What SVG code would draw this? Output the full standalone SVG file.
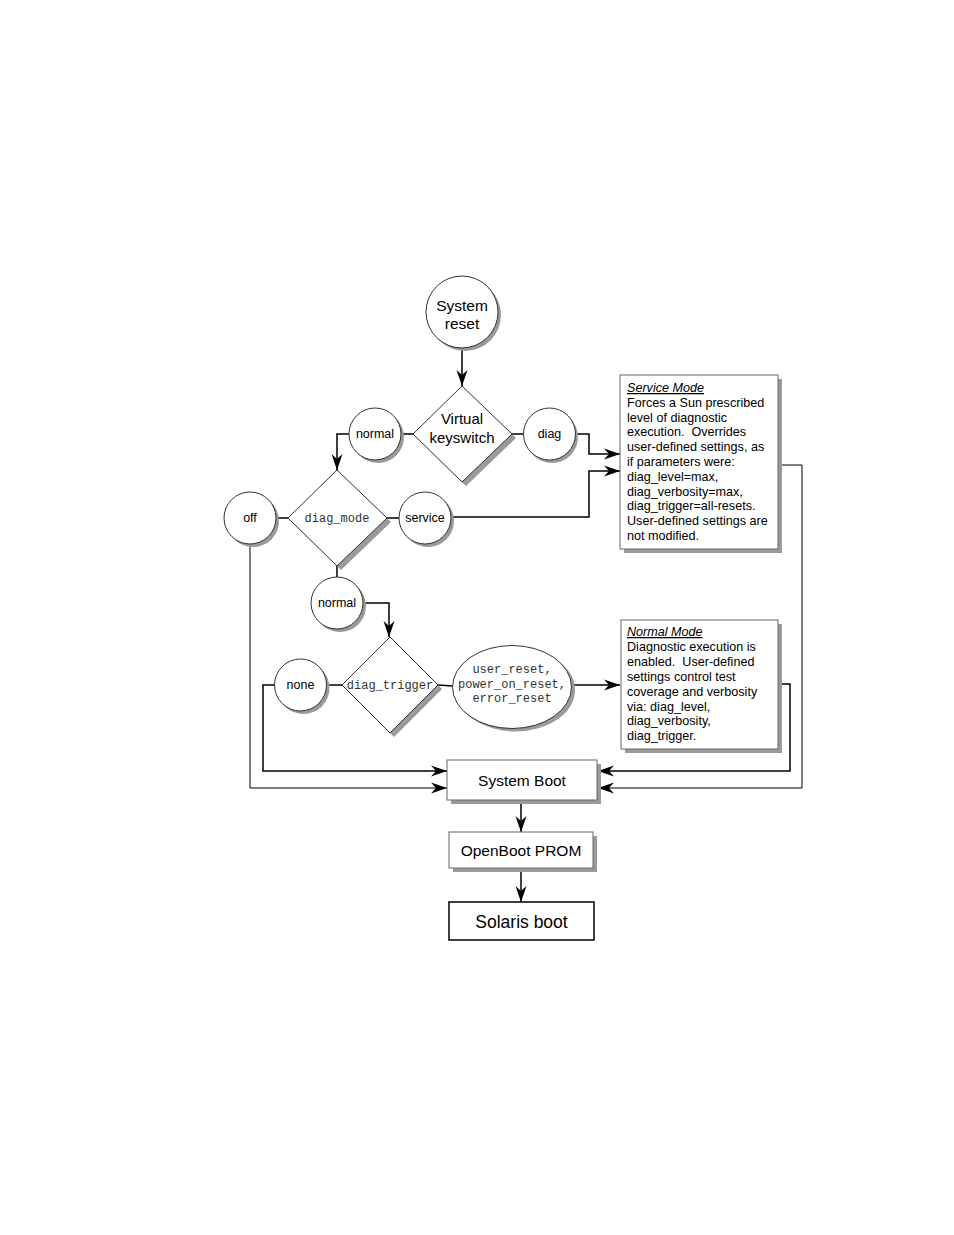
<svg xmlns="http://www.w3.org/2000/svg" width="954" height="1235" viewBox="0 0 954 1235">
<defs>
<marker id="ah" markerUnits="userSpaceOnUse" markerWidth="17" markerHeight="13" refX="16" refY="6.5" orient="auto">
<path d="M0,1 L16,6.5 L0,12 L5,6.5 z" fill="#000"/>
</marker>
<style>
.sh{fill:#9a9a9a;stroke:none}
.nd{fill:#fff;stroke:#333;stroke-width:1}
.bx{fill:#fff;stroke:#666;stroke-width:1}
.sans{font-family:"Liberation Sans",Arial,sans-serif;fill:#000}
.mono{font-family:"Liberation Mono","Courier New",monospace;fill:#333}
.c{text-anchor:middle}
.ln{fill:none;stroke:#000;stroke-width:1.5}
.thin{fill:none;stroke:#000;stroke-width:1}
.arr{marker-end:url(#ah)}
.bt{font-size:12.6px}
</style>
</defs>
<rect width="954" height="1235" fill="#fff"/>

<g id="connectors">
<path class="ln arr" d="M462,348 L462,386"/>
<path class="ln" d="M413,434 L401,434"/>
<path class="ln arr" d="M349,434 L337,434 L337,470"/>
<path class="ln" d="M512,434 L523,434"/>
<path class="ln arr" d="M576,434 L589,434 L589,454 L620,454"/>
<path class="ln" d="M386,518 L399,518"/>
<path class="ln arr" d="M451,517 L589,517 L589,471 L620,471"/>
<path class="ln" d="M288,518 L276,518"/>
<path class="thin arr" d="M250,544 L250,788 L447,788"/>
<path class="ln" d="M337,566 L337,577"/>
<path class="ln arr" d="M363,603 L389,603 L389,637"/>
<path class="ln" d="M342,685 L326,685"/>
<path class="ln arr" d="M275,685 L263,685 L263,771 L447,771"/>
<path class="ln" d="M438,685 L452,686"/>
<path class="ln arr" d="M571,685 L620,685"/>
<path class="ln arr" d="M778,684 L790,684 L790,771 L598,771"/>
<path class="thin arr" d="M778,465 L802,465 L802,788 L598,788"/>
<path class="ln arr" d="M521,800 L521,832"/>
<path class="ln arr" d="M521,868 L521,902"/>
</g>

<g id="system-reset">
<circle class="sh" cx="465" cy="315" r="36"/>
<circle class="nd" cx="462" cy="312" r="36"/>
<text class="sans c" x="462" y="311" font-size="15.5">System</text>
<text class="sans c" x="462" y="329" font-size="15.5">reset</text>
</g>

<g id="virtual-keyswitch">
<path class="sh" d="M466,390 L516,438 L466,486 L417,438 z"/>
<path class="nd" d="M462,386 L512,434 L462,482 L413,434 z"/>
<text class="sans c" x="462" y="424" font-size="15">Virtual</text>
<text class="sans c" x="462" y="443" font-size="15">keyswitch</text>
</g>

<g id="normal-1">
<circle class="sh" cx="378" cy="437" r="26"/>
<circle class="nd" cx="375" cy="434" r="26"/>
<text class="sans c" x="375" y="438" font-size="12.5">normal</text>
</g>

<g id="diag">
<circle class="sh" cx="552" cy="437" r="26"/>
<circle class="nd" cx="549.5" cy="434" r="26"/>
<text class="sans c" x="549.5" y="438" font-size="12.5">diag</text>
</g>

<g id="service-mode">
<rect class="sh" x="624" y="379" width="158" height="174"/>
<rect class="bx" x="620" y="375" width="158" height="174"/>
<text class="sans bt" x="627" y="392"><tspan font-style="italic" text-decoration="underline">Service Mode</tspan></text>
<text class="sans bt" x="627" y="406.8">Forces a Sun prescribed</text>
<text class="sans bt" x="627" y="421.6">level of diagnostic</text>
<text class="sans bt" x="627" y="436.4">execution.&#160; Overrides</text>
<text class="sans bt" x="627" y="451.2">user-defined settings, as</text>
<text class="sans bt" x="627" y="466">if parameters were:</text>
<text class="sans bt" x="627" y="480.8">diag_level=max,</text>
<text class="sans bt" x="627" y="495.6">diag_verbosity=max,</text>
<text class="sans bt" x="627" y="510.4">diag_trigger=all-resets.</text>
<text class="sans bt" x="627" y="525.2">User-defined settings are</text>
<text class="sans bt" x="627" y="540">not modified.</text>
</g>

<g id="off">
<circle class="sh" cx="253" cy="521" r="26"/>
<circle class="nd" cx="250" cy="518" r="26"/>
<text class="sans c" x="250" y="522" font-size="12.5">off</text>
</g>

<g id="diag-mode">
<path class="sh" d="M341,474 L391,522 L341,570 L292,522 z"/>
<path class="nd" d="M337,470 L387,518 L337,566 L288,518 z"/>
<text class="mono c" x="337" y="522" font-size="12">diag_mode</text>
</g>

<g id="service">
<circle class="sh" cx="428" cy="521" r="26"/>
<circle class="nd" cx="425" cy="518" r="26"/>
<text class="sans c" x="425" y="522" font-size="12.5">service</text>
</g>

<g id="normal-2">
<circle class="sh" cx="340" cy="606" r="26"/>
<circle class="nd" cx="337" cy="603" r="26"/>
<text class="sans c" x="337" y="607" font-size="12.5">normal</text>
</g>

<g id="diag-trigger">
<path class="sh" d="M394,641 L442,689 L394,737 L346,689 z"/>
<path class="nd" d="M390,637 L438,685 L390,733 L342,685 z"/>
<text class="mono c" x="390" y="689" font-size="12">diag_trigger</text>
</g>

<g id="none">
<circle class="sh" cx="303.5" cy="688" r="26"/>
<circle class="nd" cx="300.5" cy="685" r="26"/>
<text class="sans c" x="300.5" y="689" font-size="12.5">none</text>
</g>

<g id="resets">
<ellipse class="sh" cx="515.5" cy="690" rx="59.5" ry="41.5"/>
<ellipse class="nd" cx="512" cy="687" rx="59.5" ry="41.5"/>
<text class="mono c" x="512" y="673" font-size="12">user_reset,</text>
<text class="mono c" x="512" y="688" font-size="12">power_on_reset,</text>
<text class="mono c" x="512" y="702" font-size="12">error_reset</text>
</g>

<g id="normal-mode">
<rect class="sh" x="625" y="624" width="157" height="129"/>
<rect class="bx" x="621" y="620" width="157" height="129"/>
<text class="sans bt" x="627" y="636"><tspan font-style="italic" text-decoration="underline">Normal Mode</tspan></text>
<text class="sans bt" x="627" y="650.9">Diagnostic execution is</text>
<text class="sans bt" x="627" y="665.8">enabled.&#160; User-defined</text>
<text class="sans bt" x="627" y="680.7">settings control test</text>
<text class="sans bt" x="627" y="695.6">coverage and verbosity</text>
<text class="sans bt" x="627" y="710.5">via: diag_level,</text>
<text class="sans bt" x="627" y="725.4">diag_verbosity,</text>
<text class="sans bt" x="627" y="740.3">diag_trigger.</text>
</g>

<g id="system-boot">
<rect class="sh" x="451" y="764" width="150" height="40"/>
<rect class="bx" x="447" y="760" width="150" height="40"/>
<text class="sans c" x="522" y="786" font-size="15.5">System Boot</text>
</g>

<g id="openboot-prom">
<rect class="sh" x="453" y="836" width="144" height="36"/>
<rect class="bx" x="449" y="832" width="144" height="36"/>
<text class="sans c" x="521" y="856" font-size="15.5">OpenBoot PROM</text>
</g>

<g id="solaris-boot">
<rect x="449" y="902" width="145" height="38" fill="#fff" stroke="#000" stroke-width="1.5"/>
<text class="sans c" x="521.5" y="928" font-size="17.5">Solaris boot</text>
</g>
</svg>
